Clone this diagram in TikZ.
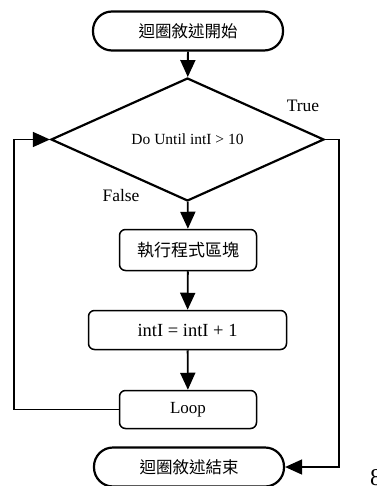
\documentclass[tikz,border=0pt]{standalone}
\usepackage{fontspec}
\setmainfont{Liberation Serif}
\newfontfamily\cjk{Noto Sans CJK TC}
\usetikzlibrary{arrows.meta,shapes.geometric}
\begin{document}
\begin{tikzpicture}[x=1pt,y=-1pt,
  term/.style={draw, line width=2.2pt, rectangle, rounded corners=19pt,
    minimum width=190pt, minimum height=39pt, inner sep=0pt,
    font=\cjk\fontsize{16.5}{18}\selectfont},
  dec/.style={draw, line width=2.2pt, diamond, minimum width=273pt,
    minimum height=97pt, inner sep=0pt, font=\fontsize{15.5}{18}\selectfont},
  proc/.style={draw, line width=1.5pt, rectangle, rounded corners=6pt,
    inner sep=0pt, font=\fontsize{17}{19}\selectfont},
  lbl/.style={font=\fontsize{17.5}{19}\selectfont, inner sep=0pt},
  arr/.style={line width=1.8pt, -{Triangle[length=17pt,width=15pt]}},
  back/.style={line width=1.5pt, -{Triangle[length=17pt,width=15pt]}}]
\useasboundingbox (0,0) rectangle (376,486);
\node[term] (start) at (188,31) {迴圈敘述開始};
\node[dec] (dia) at (187.5,139.5) {Do Until intI > 10};
\node[proc, minimum width=137pt, minimum height=41pt, font=\cjk\fontsize{17}{19}\selectfont] (b1) at (188,250) {執行程式區塊};
\node[proc, minimum width=198pt, minimum height=39pt, font=\fontsize{18.5}{20}\selectfont] (b2) at (187.5,330) {intI = intI + 1};
\node[proc, minimum width=137pt, minimum height=38pt] (loop) at (188,409.5) {Loop};
\node[term] (end) at (189,467) {迴圈敘述結束};
\node[lbl] (tt) at (303,106) {True};
\node[lbl] (ff) at (121,196) {False};
\node[anchor=base west, inner sep=0pt, font=\fontsize{24}{26}\selectfont] (pg) at (370,485) {8};
\coordinate (lx) at (14,0);
\coordinate (rx) at (339,0);
\draw[arr] (start) -- (dia);
\draw[arr] (dia) -- (b1);
\draw[arr] (b1) -- (b2);
\draw[arr] (b2) -- (loop);
\draw[back] (loop.west) -| (lx |- dia.west) -- (dia.west);
\draw[back] (dia.east) -| (rx |- end.east) -- (end.east);
\end{tikzpicture}
\end{document}
